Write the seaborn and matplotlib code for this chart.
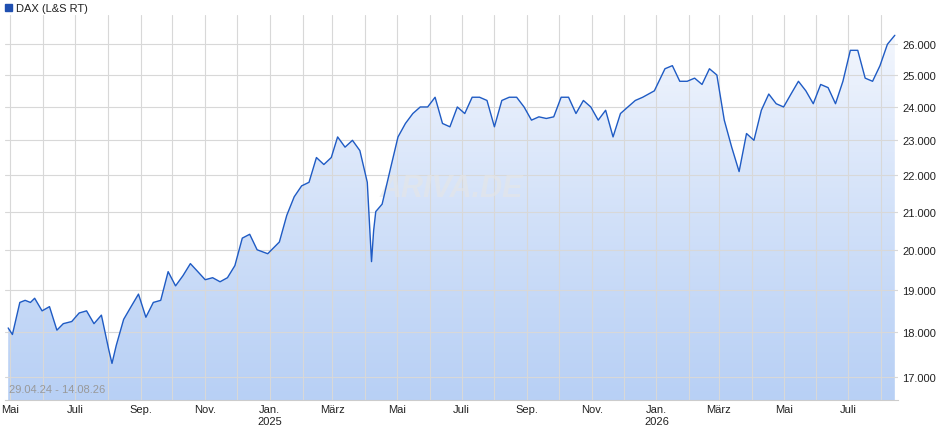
import matplotlib
matplotlib.use("Agg")
import matplotlib.pyplot as plt
import matplotlib.dates as mdates
from matplotlib.ticker import FixedLocator, NullLocator, NullFormatter
import seaborn as sns
import pandas as pd
import numpy as np

dates = ["2024-04-29","2024-05-03","2024-05-10","2024-05-15","2024-05-20","2024-05-24","2024-05-31","2024-06-07","2024-06-14","2024-06-20","2024-06-28",
"2024-07-05","2024-07-12","2024-07-19","2024-07-26","2024-08-02","2024-08-05","2024-08-09","2024-08-16","2024-08-23","2024-08-30",
"2024-09-06","2024-09-13","2024-09-20","2024-09-27","2024-10-04","2024-10-11","2024-10-18","2024-10-25","2024-11-01","2024-11-08",
"2024-11-15","2024-11-22","2024-11-29","2024-12-06","2024-12-13","2024-12-20","2024-12-30","2025-01-10","2025-01-17","2025-01-24",
"2025-01-31","2025-02-07","2025-02-14","2025-02-21","2025-02-28","2025-03-06","2025-03-13","2025-03-20","2025-03-27","2025-04-03",
"2025-04-07","2025-04-09","2025-04-11","2025-04-17","2025-04-25","2025-05-02","2025-05-09","2025-05-16","2025-05-23","2025-05-30",
"2025-06-06","2025-06-13","2025-06-20","2025-06-27","2025-07-04","2025-07-11","2025-07-18","2025-07-25","2025-08-01","2025-08-08",
"2025-08-15","2025-08-22","2025-08-29","2025-09-05","2025-09-12","2025-09-19","2025-09-26","2025-10-03","2025-10-10","2025-10-17",
"2025-10-24","2025-10-31","2025-11-07","2025-11-14","2025-11-21","2025-11-28","2025-12-05","2025-12-12","2025-12-19","2025-12-30",
"2026-01-09","2026-01-16","2026-01-23","2026-01-30","2026-02-06","2026-02-13","2026-02-20","2026-02-27","2026-03-06","2026-03-13",
"2026-03-20","2026-03-27","2026-04-03","2026-04-10","2026-04-17","2026-04-24","2026-05-01","2026-05-08","2026-05-15","2026-05-22",
"2026-05-29","2026-06-05","2026-06-12","2026-06-19","2026-06-26","2026-07-03","2026-07-10","2026-07-17","2026-07-24","2026-07-31",
"2026-08-07","2026-08-14"]
values = [18100,17950,18700,18750,18700,18800,18500,18600,18050,18200,18250,
18450,18500,18200,18400,17600,17300,17700,18300,18600,18900,
18350,18700,18750,19450,19100,19350,19650,19450,19250,19300,
19200,19300,19600,20300,20400,20000,19900,20200,20900,21400,
21700,21800,22500,22300,22500,23100,22800,23000,22700,21800,
19700,20500,21000,21200,22200,23100,23500,23800,24000,24000,
24300,23500,23400,24000,23800,24300,24300,24200,23400,24200,
24300,24300,24000,23600,23700,23650,23700,24300,24300,23800,
24200,24000,23600,23900,23100,23800,24000,24200,24300,24500,
25200,25300,24800,24800,24900,24700,25200,25000,23600,22800,
22100,23200,23000,23900,24400,24100,24000,24400,24800,24500,
24100,24700,24600,24100,24800,25800,25800,24900,24800,25300,
26000,26300]
y_ticks = [17000,18000,19000,20000,21000,22000,23000,24000,25000,26000]
y_labels = ["17.000","18.000","19.000","20.000","21.000","22.000","23.000","24.000","25.000","26.000"]
x_labels = ["Mai","Juli","Sep.","Nov.","Jan.\n2025","März","Mai","Juli","Sep.","Nov.","Jan.\n2026","März","Mai","Juli"]
x_label_dates = ["2024-05-01","2024-07-01","2024-09-01","2024-11-01","2025-01-01","2025-03-01","2025-05-01","2025-07-01","2025-09-01","2025-11-01","2026-01-01","2026-03-01","2026-05-01","2026-07-01"]

df = pd.DataFrame({"date": pd.to_datetime(dates), "value": values})
sns.set_style("white")
plt.rcParams['font.family'] = ['Liberation Sans', 'DejaVu Sans']
fig = plt.figure(figsize=(9.4, 4.35), dpi=100)
ax = fig.add_axes([5/940, 34/435, 893/940, 385/435])
ymin, ymax = 16510, 26990
xmin, xmax = pd.Timestamp("2024-04-26"), pd.Timestamp("2026-08-17")
ax.set_yscale("log")
ax.set_ylim(ymin, ymax)
ax.set_xlim(xmin, xmax)

# gradient fill
x0, x1 = mdates.date2num(xmin), mdates.date2num(xmax)
grad = np.linspace(0, 1, 256).reshape(-1, 1)
from matplotlib.colors import LinearSegmentedColormap
cmap = LinearSegmentedColormap.from_list("g", ["#b8d0f5", "#f7f9fe"])
poly = ax.fill_between(df["date"], df["value"], ymin, color="none", lw=0)
im = ax.imshow(grad, aspect="auto", cmap=cmap, extent=[x0, x1, ymin, ymax], origin="lower", zorder=1)
im.set_clip_path(poly.get_paths()[0], transform=ax.transData)

sns.lineplot(data=df, x="date", y="value", ax=ax, color="#1f5bc4", lw=1.0, zorder=3)

months = pd.date_range("2024-05-01", "2026-08-01", freq="MS")
for m in months:
    ax.axvline(m, color="#d8d8d8", lw=0.8, zorder=2)
for t in y_ticks:
    ax.axhline(t, color="#d8d8d8", lw=0.8, zorder=2)

ax.yaxis.set_major_locator(FixedLocator(y_ticks))
ax.yaxis.set_minor_locator(NullLocator())
ax.yaxis.set_minor_formatter(NullFormatter())
ax.set_yticklabels(y_labels)
ax.yaxis.tick_right()
ax.set_xticks(pd.to_datetime(x_label_dates))
ax.set_xticklabels(x_labels)
ax.tick_params(axis="both", labelsize=8, length=0, colors="#222222", pad=3)
ax.set_xlabel(""); ax.set_ylabel("")
for s in ["top", "right", "left"]:
    ax.spines[s].set_visible(False)
ax.spines["bottom"].set_color("#cccccc")

ax.text(0.5, 0.55, "ARIVA.DE", transform=ax.transAxes, fontsize=22, color="#e6e6e6",
        style="italic", weight="bold", ha="center", va="center", zorder=2.5, alpha=0.6)
ax.text(0.004, 0.02, "29.04.24 - 14.08.26", transform=ax.transAxes, fontsize=8, color="#999999", zorder=4)
fig.patches.append(plt.Rectangle((5/940, 1-12/435), 7/940, 7/435, transform=fig.transFigure, color="#1f4fb0", figure=fig))
fig.text(16/940, 1-8.5/435, "DAX (L&S RT)", fontsize=8, va="center", color="#222222")
fig.savefig("out.png", dpi=100)
